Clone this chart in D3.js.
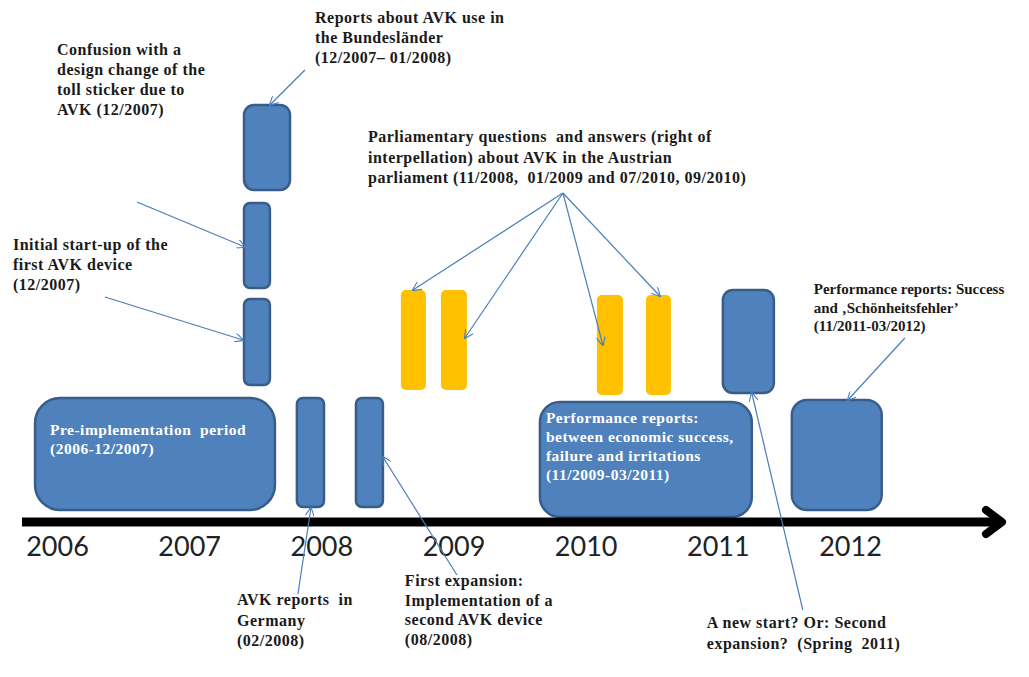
<!DOCTYPE html>
<html>
<head>
<meta charset="utf-8">
<script src="https://cdn.jsdelivr.net/npm/d3@7"></script>
<style>
  body { margin: 0; background: #fff; }
  .note { font-family: "Liberation Serif", serif; font-weight: bold; font-size: 16px; fill: #1a1a1a; letter-spacing: 0.5px; }
  .note.tight { font-size: 15px; letter-spacing: 0; }
  .inner { font-family: "Liberation Serif", serif; font-weight: bold; font-size: 15.5px; fill: #fff; letter-spacing: 0.5px; }
  .year text { font-family: Lato, "Open Sans", sans-serif; font-size: 27px; fill: #222; }
</style>
</head>
<body>
<svg></svg>
<script>
// years shown under the time arrow
const years = [2006, 2007, 2008, 2009, 2010, 2011, 2012]

// bars: start / end in years, bottom / top in levels above the arrow
const barNames = ['pre', 'ger', 'exp1', 'stack1', 'stack2', 'stack3', 'parl1', 'parl2', 'parl3', 'parl4', 'newstart', 'perf1', 'perf2']
const barStart = [2005.834, 2007.815, 2008.262, 2007.415, 2007.415, 2007.415, 2008.602, 2008.905, 2010.085, 2010.456, 2011.038, 2009.654, 2011.56]
const barEnd = [2007.649, 2008.02, 2008.466, 2007.611, 2007.611, 2007.763, 2008.791, 2009.101, 2010.282, 2010.645, 2011.424, 2011.257, 2012.24]
const barLow = [2.4, 3, 3, 27.4, 46.8, 66.4, 26.4, 26.4, 25.4, 25.4, 25.8, 1, 2.4]
const barHigh = [24.8, 24.8, 24.8, 44.6, 63.8, 83.4, 46.4, 46.4, 45.4, 45.4, 46.4, 24, 24.4]
const barKind = ['blue', 'blue', 'blue', 'blue', 'blue', 'blue', 'yellow', 'yellow', 'yellow', 'yellow', 'blue', 'blue', 'blue']
const barRound = [25, 6, 6, 6, 6, 10, 5, 5, 5, 5, 10, 20, 15]

// annotation texts
const noteLines = [
    ['Confusion with a', 'design change of the', 'toll sticker due to', 'AVK (12/2007)'],
    ['Initial start-up of the', 'first AVK device', '(12/2007)'],
    ['Reports about AVK use in', 'the Bundesländer', '(12/2007– 01/2008)'],
    ['Parliamentary questions  and answers (right of', 'interpellation) about AVK in the Austrian', 'parliament (11/2008,  01/2009 and 07/2010, 09/2010)'],
    ['Performance reports: Success', 'and \u201aSchönheitsfehler\u2019', '(11/2011-03/2012)'],
    ['AVK reports  in', 'Germany', '(02/2008)'],
    ['First expansion:', 'Implementation of a', 'second AVK device', '(08/2008)'],
    ['A new start? Or: Second', 'expansion?  (Spring  2011)']
]
const noteYear = [2006.0, 2005.667, 2007.952, 2008.353, 2011.726, 2007.362, 2008.632, 2010.917]
const noteLevel = [93.4, 54.4, 99.8, 76, 45.6, -16.6, -12.8, -21.2]
const noteStep = [4, 4, 4, 4.1, 3.7, 4.1, 3.9, 4.1]

// white text inside boxes
const innerLines = [
    ['Pre-implementation  period', '(2006-12/2007)'],
    ['Performance reports:', 'between economic success,', 'failure and irritations', '(11/2009-03/2011)']
]
const innerYear = [2005.947, 2009.699]
const innerLevel = [17.4, 19.8]

// arrows: from -> to, in years / levels
const arrowFromYear = [2007.876, 2006.605, 2006.363, 2009.828, 2009.828, 2009.828, 2009.828, 2012.415, 2011.643, 2007.823, 2009.026]
const arrowFromLevel = [90.4, 64, 45, 65.8, 65.8, 65.8, 65.8, 36.8, -17.6, -14.4, -10.6]
const arrowToYear = [2007.611, 2007.422, 2007.407, 2008.693, 2009.086, 2010.13, 2010.561, 2011.984, 2011.257, 2007.921, 2008.466]
const arrowToLevel = [83.4, 55, 36.4, 46.4, 36.8, 35.4, 45.2, 24.4, 25.8, 2.8, 13]

let width = 1029
let height = 677

let svg = d3.select('svg')
    .attr('width', width)
    .attr('height', height)

let x = d3.scaleLinear()
    .domain([2006, 2012])
    .range([57, 850])

let y = d3.scaleLinear()
    .domain([0, 100])
    .range([522, 22])

// arrow marker for the thin pointer lines
svg.append('defs').append('marker')
    .attr('id', 'tip')
    .attr('viewBox', '0 0 10 10')
    .attr('refX', 9)
    .attr('refY', 5)
    .attr('markerWidth', 9)
    .attr('markerHeight', 9)
    .attr('markerUnits', 'userSpaceOnUse')
    .attr('orient', 'auto')
    .append('path')
    .attr('d', 'M0,0 L10,5 L0,10')
    .attr('fill', 'none')
    .attr('stroke', '#4a7ebb')
    .attr('stroke-width', 1.2)

// boxes
svg.selectAll('rect.bar')
    .data(barNames)
    .enter()
    .append('rect')
    .attr('class', 'bar')
    .attr('x', (d, i) => x(barStart[i]))
    .attr('width', (d, i) => x(barEnd[i]) - x(barStart[i]))
    .attr('y', (d, i) => y(barHigh[i]))
    .attr('height', (d, i) => y(barLow[i]) - y(barHigh[i]))
    .attr('rx', (d, i) => barRound[i])
    .attr('fill', (d, i) => barKind[i] == 'blue' ? '#4f81bd' : '#ffc000')
    .attr('stroke', (d, i) => barKind[i] == 'blue' ? '#385d8a' : 'none')
    .attr('stroke-width', 2.5)

// time arrow
let axisStart = 2005.735
let axisEnd = 2013.15
svg.append('line')
    .attr('x1', x(axisStart))
    .attr('x2', x(axisEnd) - 4)
    .attr('y1', y(0))
    .attr('y2', y(0))
    .attr('stroke', '#000')
    .attr('stroke-width', 9)
svg.append('path')
    .attr('d', d3.line()([[x(axisEnd) - 16, y(0) - 12], [x(axisEnd), y(0)], [x(axisEnd) - 16, y(0) + 12]]))
    .attr('fill', 'none')
    .attr('stroke', '#000')
    .attr('stroke-width', 8)
    .attr('stroke-linecap', 'round')
    .attr('stroke-linejoin', 'round')

let xAxis = d3.axisBottom(x)
    .tickValues(years)
    .tickFormat(d3.format('d'))
    .tickSize(0)
    .tickPadding(15)
svg.append('g')
    .attr('class', 'year')
    .attr('transform', 'translate(0,' + y(0) + ')')
    .call(xAxis)
    .call(g => g.select('.domain').remove())

// pointer lines
svg.selectAll('line.pointer')
    .data(arrowFromYear)
    .enter()
    .append('line')
    .attr('class', 'pointer')
    .attr('x1', (d, i) => x(arrowFromYear[i]))
    .attr('y1', (d, i) => y(arrowFromLevel[i]))
    .attr('x2', (d, i) => x(arrowToYear[i]))
    .attr('y2', (d, i) => y(arrowToLevel[i]))
    .attr('stroke', '#4a7ebb')
    .attr('stroke-width', 1.2)
    .attr('marker-end', 'url(#tip)')

// annotations
let notes = svg.selectAll('text.note')
    .data(noteLines)
    .enter()
    .append('text')
    .attr('class', 'note')
    .classed('tight', (d, i) => noteYear[i] > 2011.5)
notes.selectAll('tspan')
    .data((d, i) => d.map(t => ({ t: t, i: i })))
    .enter()
    .append('tspan')
    .attr('x', d => x(noteYear[d.i]))
    .attr('y', (d, j) => y(noteLevel[d.i] - j * noteStep[d.i]))
    .style('white-space', 'pre')
    .text(d => d.t)

let inner = svg.selectAll('text.inner')
    .data(innerLines)
    .enter()
    .append('text')
    .attr('class', 'inner')
inner.selectAll('tspan')
    .data((d, i) => d.map(t => ({ t: t, i: i })))
    .enter()
    .append('tspan')
    .attr('x', d => x(innerYear[d.i]))
    .attr('y', (d, j) => y(innerLevel[d.i] - j * 3.8))
    .style('white-space', 'pre')
    .text(d => d.t)
</script>
</body>
</html>
